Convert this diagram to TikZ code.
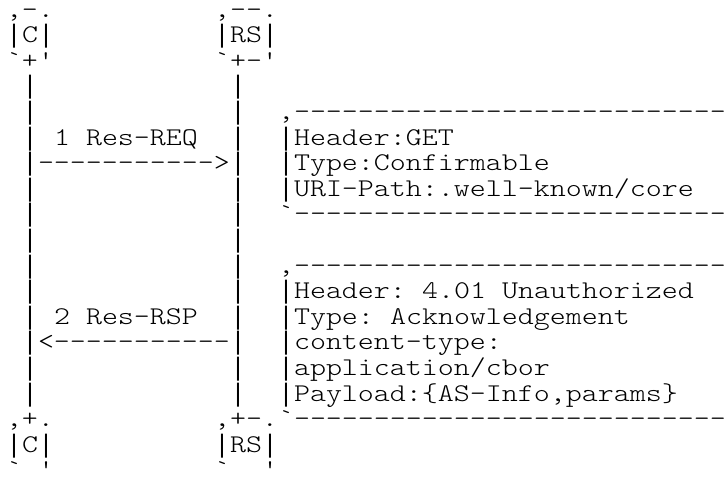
\documentclass[tikz,border=0pt]{standalone}
\usepackage{fontspec}
% light slab-serif typewriter face, widened to fill a 16pt character cell
\newfontfamily\asciimono{lmmonolt10-regular.otf}[FakeStretch=1.195, Ligatures=TeXOff]
% long vertical bar for the box sides and lifelines
\newfontfamily\pipefont{DejaVu Sans Mono}
\newcommand\pipecell{\makebox[16pt]{\pipefont\fontsize{24pt}{24pt}\selectfont|}}
\tikzset{
  cell/.style={anchor=base west, inner sep=0pt, outer sep=0pt,
    font=\asciimono\fontsize{25.5pt}{25.6pt}\selectfont, text=black},
}
% one run of monospaced characters, placed by column and row
\newcommand\putcells[4]{\node[cell] (#1) at ({6+16*#2},{-17-25.6*#3}) {#4};}
\begin{document}
\begin{tikzpicture}[x=1pt,y=1pt]
\useasboundingbox (0,0) rectangle (727,-477);

% participant heads
\putcells{cHeadA}{0}{0}{,-.}
\putcells{cHeadB}{0}{1}{\pipecell C\pipecell}
\putcells{cHeadC}{0}{2}{`+'}
\putcells{rsHeadA}{13}{0}{,--.}
\putcells{rsHeadB}{13}{1}{\pipecell RS\pipecell}
\putcells{rsHeadC}{13}{2}{`+-'}

% lifelines
\foreach \r in {3,4,5,7,8,9,10,11,12,14,15} {
  \putcells{cLife\r}{1}{\r}{\pipecell}
  \putcells{rsLife\r}{14}{\r}{\pipecell}
}

% request
\putcells{reqNum}{3}{5}{1}
\putcells{reqLabel}{5}{5}{Res-REQ}
\putcells{reqArrow}{1}{6}{\pipecell----------->\pipecell}

% request options box
\putcells{reqBoxTop}{17}{4}{,---------------------------}
\putcells{reqL1}{17}{5}{\pipecell Header:GET}
\putcells{reqL2}{17}{6}{\pipecell Type:Confirmable}
\putcells{reqL3}{17}{7}{\pipecell URI-Path:.well-known/core}
\putcells{reqBoxBot}{17}{8}{`---------------------------}

% response
\putcells{rspNum}{3}{12}{2}
\putcells{rspLabel}{5}{12}{Res-RSP}
\putcells{rspArrow}{1}{13}{\pipecell<-----------\pipecell}

% response options box
\putcells{rspBoxTop}{17}{10}{,---------------------------}
\putcells{rspL1a}{17}{11}{\pipecell Header:}
\putcells{rspL1b}{26}{11}{4.01}
\putcells{rspL1c}{31}{11}{Unauthorized}
\putcells{rspL2a}{17}{12}{\pipecell Type:}
\putcells{rspL2b}{24}{12}{Acknowledgement}
\putcells{rspL3}{17}{13}{\pipecell content-type:}
\putcells{rspL4}{17}{14}{\pipecell application/cbor}
\putcells{rspL5}{17}{15}{\pipecell Payload:\{AS-Info,params\}}
\putcells{rspBoxBot}{17}{16}{`---------------------------}

% participant feet
\putcells{cFootA}{0}{16}{,+.}
\putcells{cFootB}{0}{17}{\pipecell C\pipecell}
\putcells{cFootC}{0}{18}{`}
\putcells{cFootD}{2}{18}{'}
\putcells{rsFootA}{13}{16}{,+-.}
\putcells{rsFootB}{13}{17}{\pipecell RS\pipecell}
\putcells{rsFootC}{13}{18}{`}
\putcells{rsFootD}{16}{18}{'}
\end{tikzpicture}
\end{document}
